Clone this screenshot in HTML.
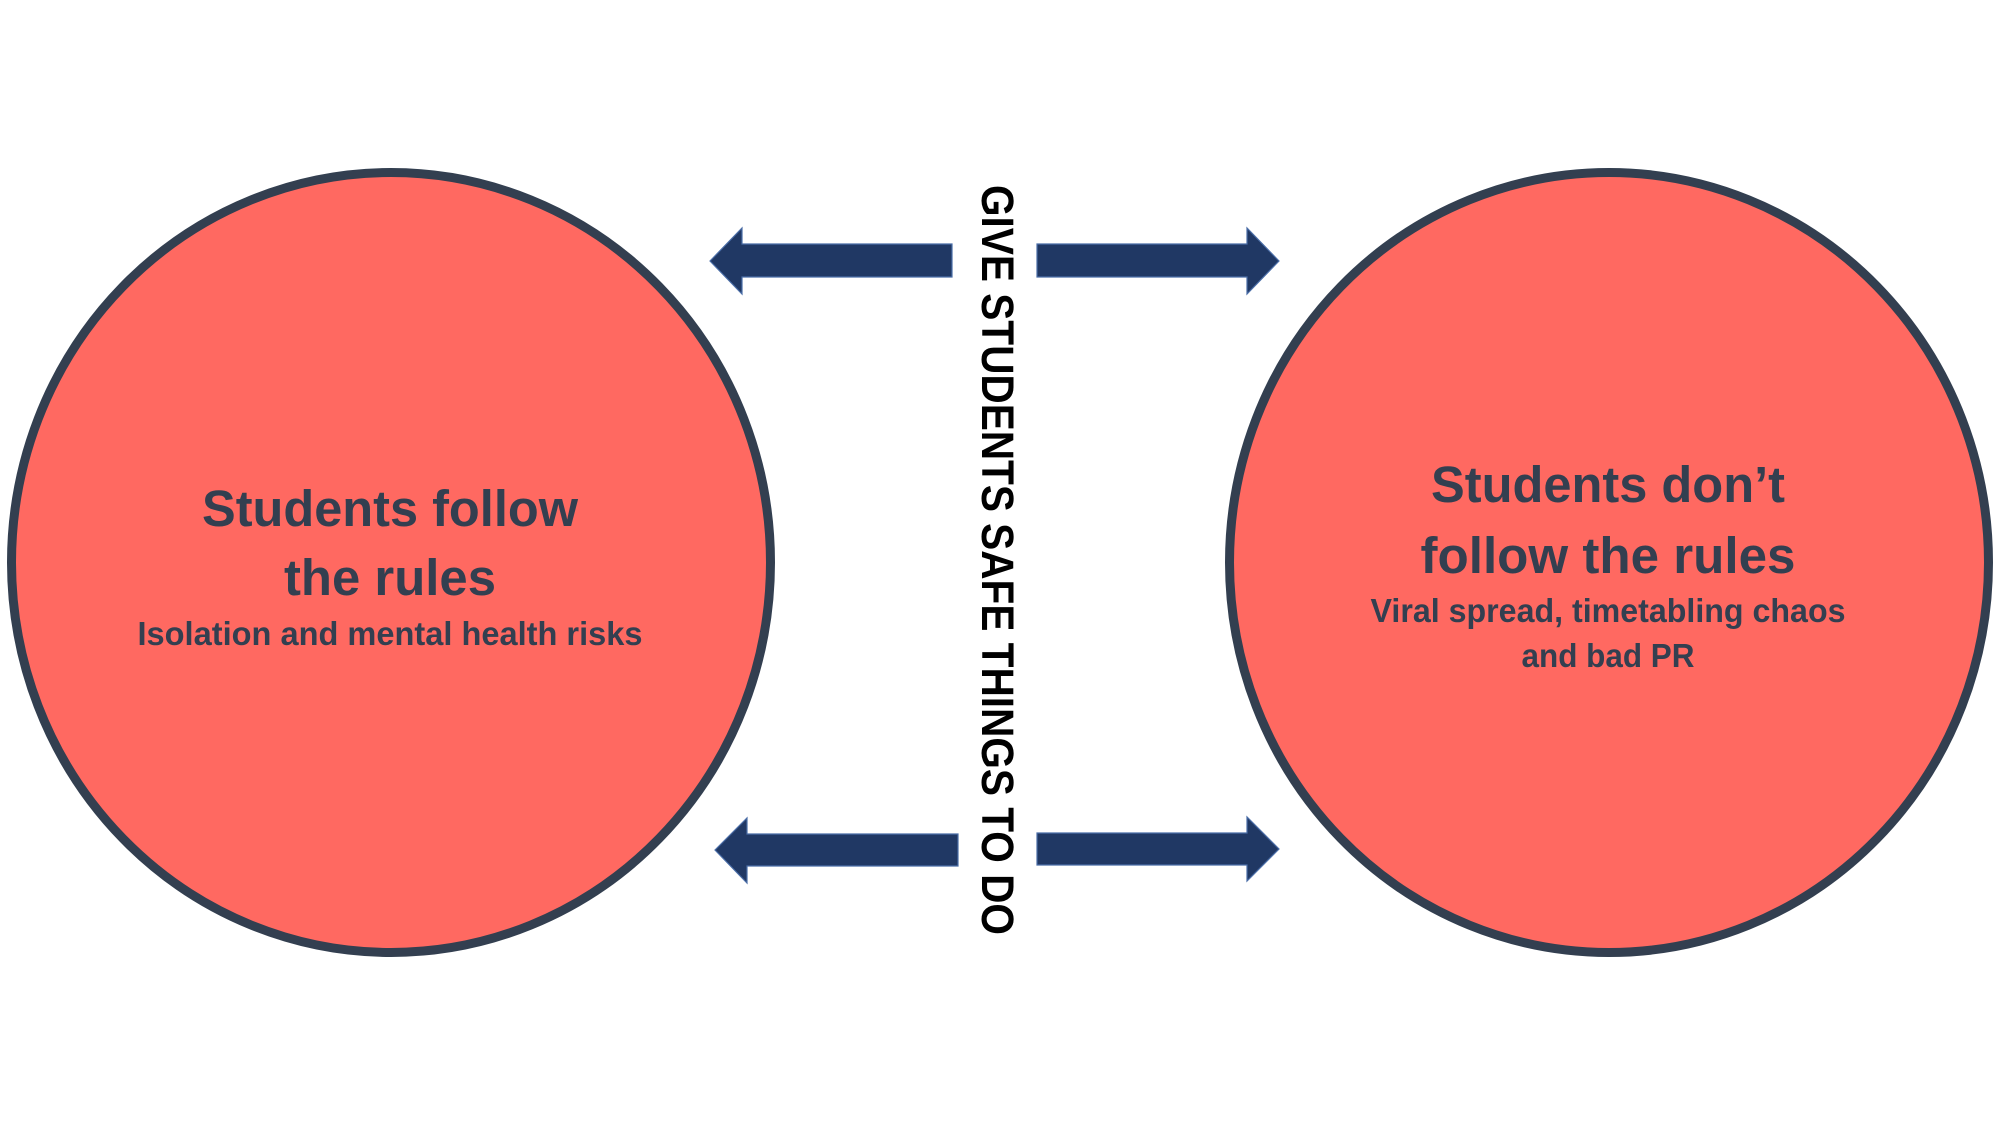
<!DOCTYPE html>
<html>
<head>
<meta charset="utf-8">
<style>
  html, body { margin:0; padding:0; background:#ffffff; }
  body { width:2000px; height:1125px; overflow:hidden; }
  svg { display:block; }
  .t { font-family:"Liberation Sans", Arial, sans-serif; font-weight:bold; fill:#333F50; }
</style>
</head>
<body>
<svg width="2000" height="1125" viewBox="0 0 2000 1125" xmlns="http://www.w3.org/2000/svg">
  <rect x="0" y="0" width="2000" height="1125" fill="#ffffff"/>

  <!-- Left ellipse -->
  <ellipse cx="391" cy="562.5" rx="379.5" ry="390" fill="#FF6961" stroke="#333F50" stroke-width="9"/>
  <!-- Right ellipse -->
  <ellipse cx="1609" cy="562.5" rx="379.5" ry="390" fill="#FF6961" stroke="#333F50" stroke-width="9"/>

  <!-- Left text -->
  <text class="t" x="390" y="526" font-size="51" text-anchor="middle" textLength="376" lengthAdjust="spacingAndGlyphs">Students follow</text>
  <text class="t" x="390" y="595" font-size="51" text-anchor="middle" textLength="212" lengthAdjust="spacingAndGlyphs">the rules</text>
  <text class="t" x="390" y="645" font-size="33" text-anchor="middle" textLength="505" lengthAdjust="spacingAndGlyphs">Isolation and mental health risks</text>

  <!-- Right text -->
  <text class="t" x="1608" y="502" font-size="51" text-anchor="middle" textLength="354" lengthAdjust="spacingAndGlyphs">Students don’t</text>
  <text class="t" x="1608" y="573" font-size="51" text-anchor="middle" textLength="375" lengthAdjust="spacingAndGlyphs">follow the rules</text>
  <text class="t" x="1608" y="622" font-size="33" text-anchor="middle" textLength="475" lengthAdjust="spacingAndGlyphs">Viral spread, timetabling chaos</text>
  <text class="t" x="1608" y="667" font-size="33" text-anchor="middle" textLength="173" lengthAdjust="spacingAndGlyphs">and bad PR</text>

  <!-- Arrows -->
  <g fill="#203864" stroke="#4A6DA7" stroke-width="1.2" stroke-linejoin="miter">
    <polygon points="710,261 742,228 742,244 952,244 952,277 742,277 742,294"/>
    <polygon points="1037,244 1247,244 1247,228 1279,261 1247,294 1247,277 1037,277"/>
    <polygon points="715,850 747,818 747,834 958,834 958,866 747,866 747,883"/>
    <polygon points="1037,833 1247,833 1247,817 1279,849 1247,881 1247,865 1037,865"/>
  </g>

  <!-- Vertical text -->
  <text x="0" y="0" transform="translate(982,185) rotate(90)" font-family="'Liberation Sans', Arial, sans-serif" font-weight="bold" font-size="45" fill="#000000" textLength="750" lengthAdjust="spacingAndGlyphs">GIVE STUDENTS SAFE THINGS TO DO</text>
</svg>
</body>
</html>
